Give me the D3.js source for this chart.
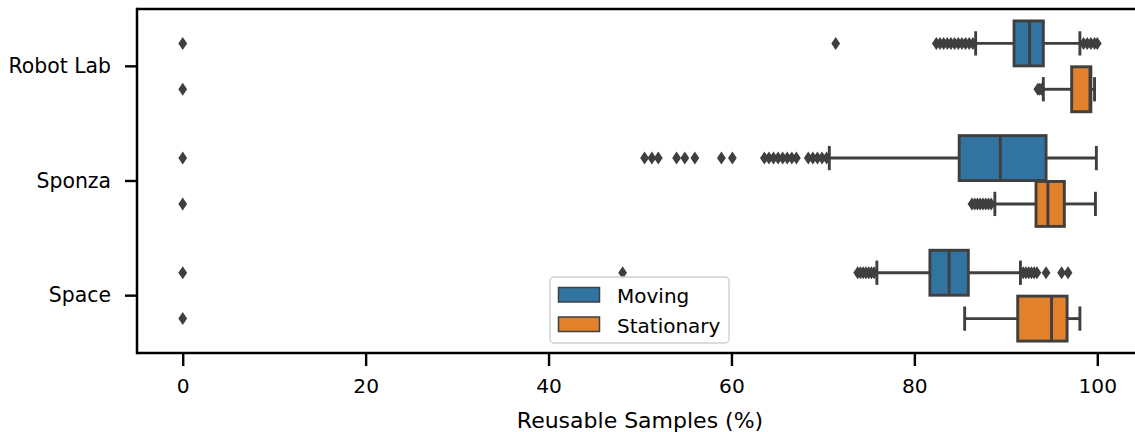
<!DOCTYPE html>
<html>
<head>
<meta charset="utf-8">
<script src="https://cdn.jsdelivr.net/npm/d3@7"></script>
<style>
html,body{margin:0;padding:0;background:#fff;}
svg{display:block;font-family:"DejaVu Sans",sans-serif;}
</style>
</head>
<body>
<svg id="chart" width="1135" height="432"></svg>
<script>
// ---- data ----
const categories = ["Robot Lab", "Sponza", "Space"];
const hues = ["Moving", "Stationary"];
const hueColors = ["#3274a1", "#e1812c"];
const xTicks = [0, 20, 40, 60, 80, 100];
const xLabel = "Reusable Samples (%)";

// [category][hue]
const whiskerLow  = [[86.7, 94.1], [70.7, 88.8], [75.9, 85.5]];
const q1          = [[90.9, 97.2], [84.9, 93.3], [81.7, 91.3]];
const medians     = [[92.6, 99.2], [89.4, 94.6], [83.8, 95.0]];
const q3          = [[94.1, 99.3], [94.4, 96.4], [85.9, 96.7]];
const whiskerHigh = [[98.1, 99.7], [99.9, 99.8], [91.6, 98.1]];

const outlierRobotMoving = [0, 71.4, 82.4, 82.8, 83.2, 83.6, 84.0, 84.4, 84.8, 85.2, 85.6, 86.0, 86.4,
  98.5, 98.9, 99.3, 99.7, 100.0];
const outlierRobotStationary = [0, 93.5, 93.7, 93.9];
const outlierSponzaMoving = [0, 50.5, 51.3, 52.0, 54.0, 54.9, 56.0, 58.9, 60.1,
  63.6, 64.1, 64.6, 65.1, 65.6, 66.1, 66.6, 67.1, 68.4, 68.9, 69.4, 69.9, 70.4];
const outlierSponzaStationary = [0, 86.3, 86.6, 86.9, 87.2, 87.5, 87.8, 88.1, 88.4];
const outlierSpaceMoving = [0, 48.1, 73.8, 74.1, 74.4, 74.7, 75.0, 75.3, 75.6,
  91.9, 92.2, 92.5, 92.8, 93.1, 93.4, 94.4, 96.1, 96.8];
const outlierSpaceStationary = [0];
const outliers = [
  [outlierRobotMoving, outlierRobotStationary],
  [outlierSponzaMoving, outlierSponzaStationary],
  [outlierSpaceMoving, outlierSpaceStationary]
];

// ---- layout ----
const padL = 137, padR = 1143, padT = 9, padB = 353;
const lineColor = "#3f3f3f";
const lw = 2.9;
const svg = d3.select("#chart");

const x = d3.scaleLinear().domain([-5, 105]).range([padL, padR]);
const y = d3.scaleBand().domain(categories).range([padT, padB]).padding(0);
const yh = d3.scaleBand().domain(hues).range([0.1 * y.bandwidth(), 0.9 * y.bandwidth()]).padding(0);
const boxH = yh.bandwidth() * 0.98;

// ---- boxes ----
const groups = [];
categories.forEach((c, ci) => hues.forEach((h, hi) => {
  groups.push({c, ci, h, hi,
    wl: whiskerLow[ci][hi], q1: q1[ci][hi], med: medians[ci][hi],
    q3: q3[ci][hi], wh: whiskerHigh[ci][hi], out: outliers[ci][hi]});
}));

const plot = svg.append("g");
const g = plot.selectAll("g.box").data(groups).join("g").attr("class", "box")
  .attr("transform", d => `translate(0,${y(d.c) + yh(d.h) + yh.bandwidth() / 2})`);

g.append("line").attr("x1", d => x(d.wl)).attr("x2", d => x(d.q1)).attr("y1", 0).attr("y2", 0)
  .attr("stroke", lineColor).attr("stroke-width", lw);
g.append("line").attr("x1", d => x(d.q3)).attr("x2", d => x(d.wh)).attr("y1", 0).attr("y2", 0)
  .attr("stroke", lineColor).attr("stroke-width", lw);
g.append("line").attr("x1", d => x(d.wl)).attr("x2", d => x(d.wl)).attr("y1", -boxH * 0.27).attr("y2", boxH * 0.27)
  .attr("stroke", lineColor).attr("stroke-width", lw);
g.append("line").attr("x1", d => x(d.wh)).attr("x2", d => x(d.wh)).attr("y1", -boxH * 0.27).attr("y2", boxH * 0.27)
  .attr("stroke", lineColor).attr("stroke-width", lw);
g.append("rect").attr("x", d => x(d.q1)).attr("width", d => x(d.q3) - x(d.q1))
  .attr("y", -boxH / 2).attr("height", boxH)
  .attr("fill", d => hueColors[d.hi]).attr("stroke", lineColor).attr("stroke-width", lw);
g.append("line").attr("x1", d => x(d.med)).attr("x2", d => x(d.med)).attr("y1", -boxH / 2).attr("y2", boxH / 2)
  .attr("stroke", lineColor).attr("stroke-width", lw);
g.selectAll("path.flier").data(d => d.out).join("path").attr("class", "flier")
  .attr("d", v => { const cx = x(v); return `M${cx},-6.5L${cx + 4.4},0L${cx},6.5L${cx - 4.4},0Z`; })
  .attr("fill", lineColor);

// ---- axes ----
const xAxis = svg.append("g").attr("transform", `translate(0,${padB})`)
  .call(d3.axisBottom(x).tickValues(xTicks).tickSize(13).tickPadding(13).tickFormat(d3.format("d")));
xAxis.select(".domain").remove();
xAxis.selectAll(".tick line").attr("stroke", "#000").attr("stroke-width", 2.4);
xAxis.selectAll(".tick text").attr("font-size", 20.2).attr("fill", "#000").attr("font-family", "DejaVu Sans");

const yAxis = svg.append("g").attr("transform", `translate(${padL},0)`)
  .call(d3.axisLeft(y).tickSize(12).tickPadding(14));
yAxis.select(".domain").remove();
yAxis.selectAll(".tick line").attr("stroke", "#000").attr("stroke-width", 2.4);
yAxis.selectAll(".tick text").attr("font-size", 20.4).attr("fill", "#000").attr("font-family", "DejaVu Sans");

svg.append("line").attr("x1", padL).attr("x2", padR).attr("y1", padT).attr("y2", padT).attr("stroke", "#000").attr("stroke-width", 2.5);
svg.append("line").attr("x1", padL).attr("x2", padR).attr("y1", padB).attr("y2", padB).attr("stroke", "#000").attr("stroke-width", 2.5);
svg.append("line").attr("x1", padL).attr("x2", padL).attr("y1", padT - 1.25).attr("y2", padB + 1.25).attr("stroke", "#000").attr("stroke-width", 2.5);

svg.append("text").attr("x", (padL + padR) / 2).attr("y", 428).attr("text-anchor", "middle")
  .attr("font-size", 22).attr("fill", "#000").text(xLabel);

// ---- legend ----
const lg = svg.append("g").attr("transform", "translate(550,277)");
lg.append("rect").attr("x", 0).attr("y", 0).attr("width", 179).attr("height", 66).attr("rx", 4)
  .attr("fill", "#fff").attr("fill-opacity", 0.8).attr("stroke", "#d0d0d0").attr("stroke-width", 1.4);
const li = lg.selectAll("g.item").data(hues).join("g").attr("class", "item")
  .attr("transform", (d, i) => `translate(0,${10 + i * 29.5})`);
li.append("rect").attr("x", 8.5).attr("y", 0.5).attr("width", 41).attr("height", 14.5)
  .attr("fill", (d, i) => hueColors[i]).attr("stroke", lineColor).attr("stroke-width", 1.5);
li.append("text").attr("x", 67).attr("y", 16).attr("font-size", 20).attr("fill", "#000").text(d => d);
</script>
</body>
</html>
